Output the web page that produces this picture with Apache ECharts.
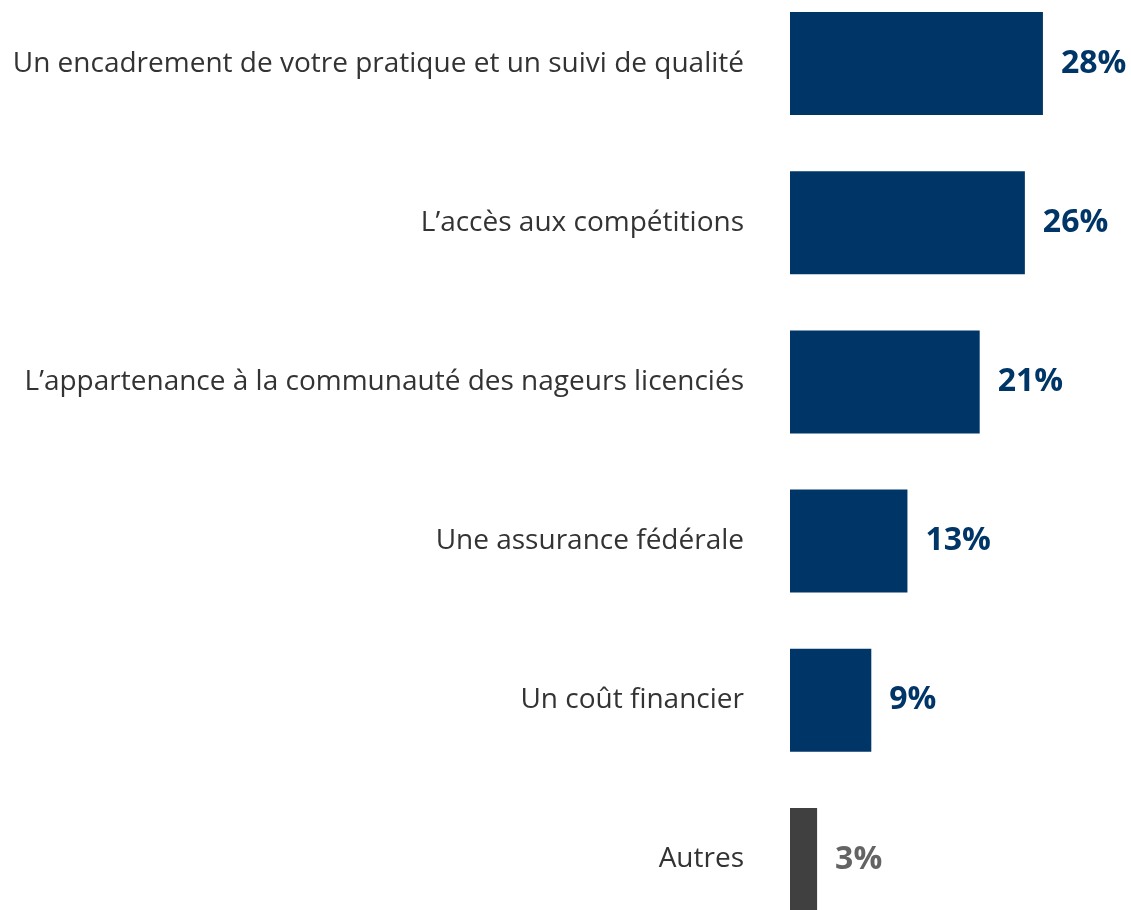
<!DOCTYPE html>
<html>
<head>
<meta charset="utf-8">
<script src="https://cdn.jsdelivr.net/npm/echarts@6/dist/echarts.min.js"></script>
<style>
  html, body { margin: 0; padding: 0; background: #fff; }
  #chart { width: 1131px; height: 910px; }
</style>
</head>
<body>
<div id="chart"></div>
<script>
var categories = [
    'Un encadrement de votre pratique et un suivi de qualité',
    'L\u2019accès aux compétitions',
    'L\u2019appartenance à la communauté des nageurs licenciés',
    'Une assurance fédérale',
    'Un coût financier',
    'Autres'
];
var values = [28, 26, 21, 13, 9, 3];

var navy = '#003567';
var grey = '#404040';

var chart = echarts.init(document.getElementById('chart'));

var option = {
    animation: false,
    grid: {
        left: 790,
        width: 271,
        top: -16,
        height: 955,
        outerBoundsMode: 'none'
    },
    xAxis: {
        type: 'value',
        min: 0,
        max: 30,
        show: false
    },
    yAxis: {
        type: 'category',
        inverse: true,
        data: categories,
        axisLine: { show: false },
        axisTick: { show: false },
        axisLabel: {
            margin: 46,
            fontFamily: 'Open Sans',
            fontSize: 28,
            color: '#333333'
        }
    },
    series: [{
        type: 'bar',
        barWidth: 103,
        itemStyle: {
            color: function (p) {
                return categories[p.dataIndex] === 'Autres' ? grey : navy;
            }
        },
        label: {
            show: true,
            position: 'right',
            distance: 18,
            fontFamily: 'Open Sans',
            fontWeight: 'bold',
            fontSize: 32,
            formatter: '{c}%',
            color: navy
        }
    }]
};

// étiquette "Autres" en gris
option.series[0].data = values.map(function (v, i) {
    if (categories[i] === 'Autres') {
        return { value: v, label: { color: '#646464' } };
    }
    return v;
});

chart.setOption(option);
</script>
</body>
</html>
